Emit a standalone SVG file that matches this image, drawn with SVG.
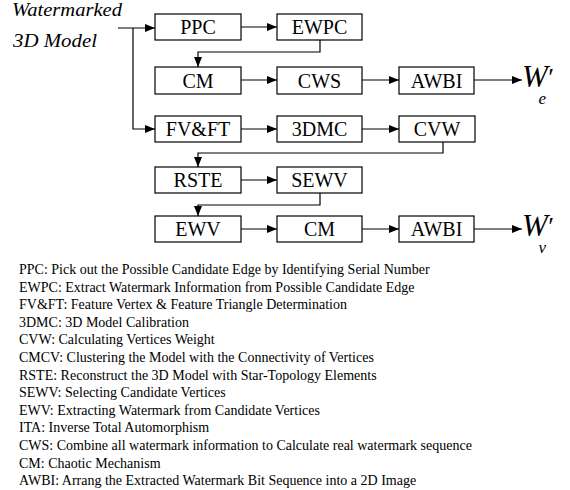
<svg xmlns="http://www.w3.org/2000/svg" width="570" height="490" viewBox="0 0 570 490">
<style>
.box{fill:#fff;stroke:#000;stroke-width:1.2}
.bt{font-family:"Liberation Serif","Times New Roman","DejaVu Serif",serif;font-size:20px;text-anchor:middle;fill:#000}
.ln{fill:none;stroke:#000;stroke-width:1.2}
.it{font-family:"Liberation Serif","Times New Roman","DejaVu Serif",serif;font-style:italic;fill:#000}
.lg{font-family:"Liberation Serif","Times New Roman","DejaVu Serif",serif;font-size:14px;fill:#000}
</style>
<defs>
<marker id="ah" markerUnits="userSpaceOnUse" markerWidth="11" markerHeight="9" refX="10" refY="4" orient="auto">
<path d="M0,0 L10,4 L0,8 z" fill="#000"/>
</marker>
</defs>
<rect width="570" height="490" fill="#fff"/>
<g id="input">
<text class="it" x="12" y="16" font-size="19" textLength="110" lengthAdjust="spacingAndGlyphs">Watermarked</text>
<text class="it" x="13" y="47" font-size="19" textLength="84" lengthAdjust="spacingAndGlyphs">3D Model</text>
</g>
<g id="connectors">
<polyline class="ln" points="118,28 155,28" marker-end="url(#ah)"/>
<polyline class="ln" points="133,28 133,129 155,129" marker-end="url(#ah)"/>
<polyline class="ln" points="241,27 277,27" marker-end="url(#ah)"/>
<polyline class="ln" points="320,40 320,52 198,52 198,67" marker-end="url(#ah)"/>
<polyline class="ln" points="241,80 277,80" marker-end="url(#ah)"/>
<polyline class="ln" points="362,80 399,80" marker-end="url(#ah)"/>
<polyline class="ln" points="474,80 522,80" marker-end="url(#ah)"/>
<polyline class="ln" points="241,129 277,129" marker-end="url(#ah)"/>
<polyline class="ln" points="362,129 399,129" marker-end="url(#ah)"/>
<polyline class="ln" points="443,142 443,153 198,153 198,167" marker-end="url(#ah)"/>
<polyline class="ln" points="241,180 277,180" marker-end="url(#ah)"/>
<polyline class="ln" points="320,193 320,205 198,205 198,216" marker-end="url(#ah)"/>
<polyline class="ln" points="241,229 277,229" marker-end="url(#ah)"/>
<polyline class="ln" points="362,229 399,229" marker-end="url(#ah)"/>
<polyline class="ln" points="474,229 522,229" marker-end="url(#ah)"/>
</g>
<g id="PPC"><rect class="box" x="155" y="14" width="86" height="26"/><text class="bt" x="198" y="34">PPC</text></g>
<g id="EWPC"><rect class="box" x="277" y="14" width="85" height="26"/><text class="bt" x="319.5" y="34">EWPC</text></g>
<g id="CM1"><rect class="box" x="155" y="67" width="86" height="27"/><text class="bt" x="198" y="88">CM</text></g>
<g id="CWS"><rect class="box" x="277" y="67" width="85" height="27"/><text class="bt" x="319.5" y="88">CWS</text></g>
<g id="AWBI1"><rect class="box" x="399" y="67" width="75" height="27"/><text class="bt" x="436.5" y="88">AWBI</text></g>
<g id="We"><text class="it" x="522" y="87" font-size="31">W<tspan dx="-1" dy="-1" font-size="26">′</tspan><tspan dx="-14" dy="18" font-size="17">e</tspan></text></g>
<g id="FVFT"><rect class="box" x="155" y="116" width="86" height="26"/><text class="bt" x="198" y="136">FV&amp;FT</text></g>
<g id="DMC"><rect class="box" x="277" y="116" width="85" height="26"/><text class="bt" x="319.5" y="136">3DMC</text></g>
<g id="CVW"><rect class="box" x="399" y="116" width="76" height="26"/><text class="bt" x="437" y="136">CVW</text></g>
<g id="RSTE"><rect class="box" x="155" y="167" width="86" height="26"/><text class="bt" x="198" y="187">RSTE</text></g>
<g id="SEWV"><rect class="box" x="277" y="167" width="85" height="26"/><text class="bt" x="319.5" y="187">SEWV</text></g>
<g id="EWV"><rect class="box" x="155" y="216" width="86" height="26"/><text class="bt" x="198" y="236">EWV</text></g>
<g id="CM2"><rect class="box" x="277" y="216" width="85" height="26"/><text class="bt" x="319.5" y="236">CM</text></g>
<g id="AWBI2"><rect class="box" x="399" y="216" width="75" height="26"/><text class="bt" x="436.5" y="236">AWBI</text></g>
<g id="Wv"><text class="it" x="522" y="236" font-size="31">W<tspan dx="-1" dy="-1" font-size="26">′</tspan><tspan dx="-14" dy="18" font-size="17">v</tspan></text></g>
<g id="legend">
<text class="lg" x="19" y="274">PPC: Pick out the Possible  Candidate Edge by Identifying Serial Number</text>
<text class="lg" x="19" y="291.6">EWPC: Extract Watermark Information from Possible Candidate Edge</text>
<text class="lg" x="19" y="309.2">FV&amp;FT: Feature Vertex &amp; Feature Triangle Determination</text>
<text class="lg" x="19" y="326.8">3DMC: 3D Model Calibration</text>
<text class="lg" x="19" y="344.4">CVW: Calculating Vertices Weight</text>
<text class="lg" x="19" y="362">CMCV: Clustering the Model with the Connectivity of Vertices</text>
<text class="lg" x="19" y="379.6">RSTE: Reconstruct the 3D Model with Star-Topology Elements</text>
<text class="lg" x="19" y="397.2">SEWV: Selecting Candidate Vertices</text>
<text class="lg" x="19" y="414.8">EWV: Extracting Watermark from Candidate Vertices</text>
<text class="lg" x="19" y="432.4">ITA: Inverse Total Automorphism</text>
<text class="lg" x="19" y="450">CWS: Combine all watermark information to Calculate real watermark sequence</text>
<text class="lg" x="19" y="467.6">CM: Chaotic Mechanism</text>
<text class="lg" x="19" y="485.2">AWBI: Arrang the Extracted Watermark Bit Sequence into a 2D Image</text>
</g>
</svg>
